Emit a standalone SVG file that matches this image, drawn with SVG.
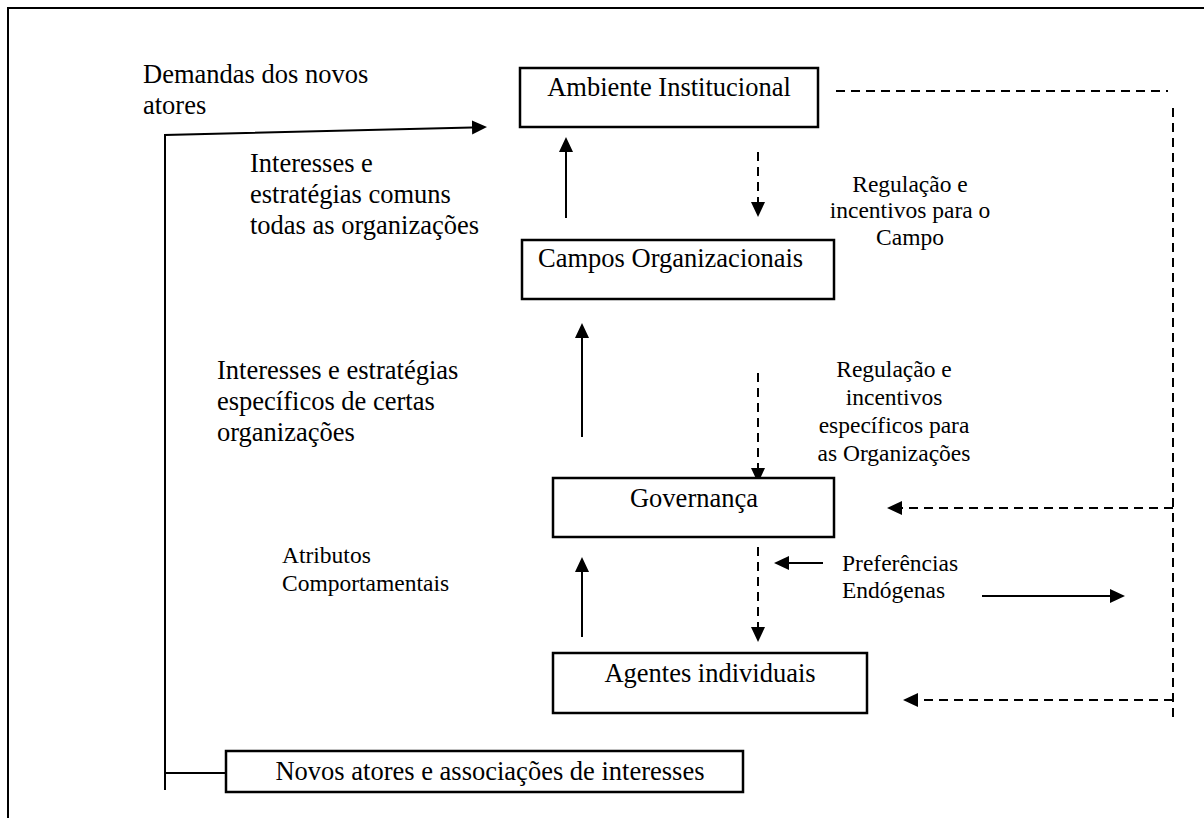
<svg xmlns="http://www.w3.org/2000/svg" width="1204" height="818" viewBox="0 0 1204 818">
<defs>
<marker id="ah" markerUnits="userSpaceOnUse" markerWidth="16" markerHeight="16" refX="0" refY="7" orient="auto">
<path d="M0,0 L15,7 L0,14 z" fill="#000"/>
</marker>
<style>
.box{fill:#fff;stroke:#000;stroke-width:2.5}
.t{font-family:"Liberation Serif","Times New Roman",serif;font-size:26.5px;fill:#000}
.s{font-family:"Liberation Serif","Times New Roman",serif;font-size:23.5px;fill:#000}
.c{text-anchor:middle}
.ln{fill:none;stroke:#000;stroke-width:2}
.ds{fill:none;stroke:#000;stroke-width:2;stroke-dasharray:9 6}
.ar{marker-end:url(#ah)}
</style>
</defs>
<rect width="1204" height="818" fill="#fff"/>
<path d="M8,818 L8,8 L1204,8" fill="none" stroke="#000" stroke-width="2"/>

<g id="connectors">
<path class="ln ar" d="M165,790 L165,135 L472,127.4"/>
<path class="ln" d="M165,773 L226,773"/>
<path class="ln ar" d="M566,218 L566,152"/>
<path class="ds ar" d="M758,152 L758,202"/>
<path class="ln ar" d="M582,437 L582,338"/>
<path class="ds ar" d="M758,373 L758,468"/>
<path class="ln ar" d="M582,637 L582,572"/>
<path class="ds ar" d="M758,547 L758,627"/>
<path class="ln ar" d="M823,563 L789,563"/>
<path class="ln ar" d="M982,596 L1110,596"/>
<path class="ds" d="M836,91 L1168,91"/>
<path class="ds" d="M1173,108 L1173,719"/>
<path class="ds ar" d="M1173,508 L902,508"/>
<path class="ds ar" d="M1173,700 L918,700"/>
</g>

<g id="ambiente">
<rect class="box" x="520" y="68" width="298" height="59"/>
<text class="t c" x="669" y="96">Ambiente Institucional</text>
</g>
<g id="campos">
<rect class="box" x="522" y="240" width="312" height="59"/>
<text class="t" x="538" y="267">Campos Organizacionais</text>
</g>
<g id="governanca">
<rect class="box" x="553" y="478" width="281" height="59"/>
<text class="t c" x="694" y="507">Governança</text>
</g>
<g id="agentes">
<rect class="box" x="553" y="653" width="314" height="60"/>
<text class="t c" x="710" y="682">Agentes individuais</text>
</g>
<g id="novos">
<rect class="box" x="226" y="751" width="517" height="41"/>
<text class="t c" x="490" y="780">Novos atores e associações de interesses</text>
</g>

<g id="labels">
<text class="t" x="143" y="83">Demandas dos novos</text>
<text class="t" x="143" y="114">atores</text>
<text class="t" x="250" y="172">Interesses e</text>
<text class="t" x="250" y="203">estratégias comuns</text>
<text class="t" x="250" y="234">todas as organizações</text>
<text class="t" x="217" y="379">Interesses e estratégias</text>
<text class="t" x="217" y="410">específicos de certas</text>
<text class="t" x="217" y="441">organizações</text>
<text class="s" x="282" y="563">Atributos</text>
<text class="s" x="282" y="591">Comportamentais</text>
<text class="s c" x="910" y="192">Regulação e</text>
<text class="s c" x="910" y="218">incentivos para o</text>
<text class="s c" x="910" y="245">Campo</text>
<text class="s c" x="894" y="377">Regulação e</text>
<text class="s c" x="894" y="405">incentivos</text>
<text class="s c" x="894" y="433">específicos para</text>
<text class="s c" x="894" y="461">as Organizações</text>
<text class="s" x="842" y="571">Preferências</text>
<text class="s" x="842" y="598">Endógenas</text>
</g>
</svg>
